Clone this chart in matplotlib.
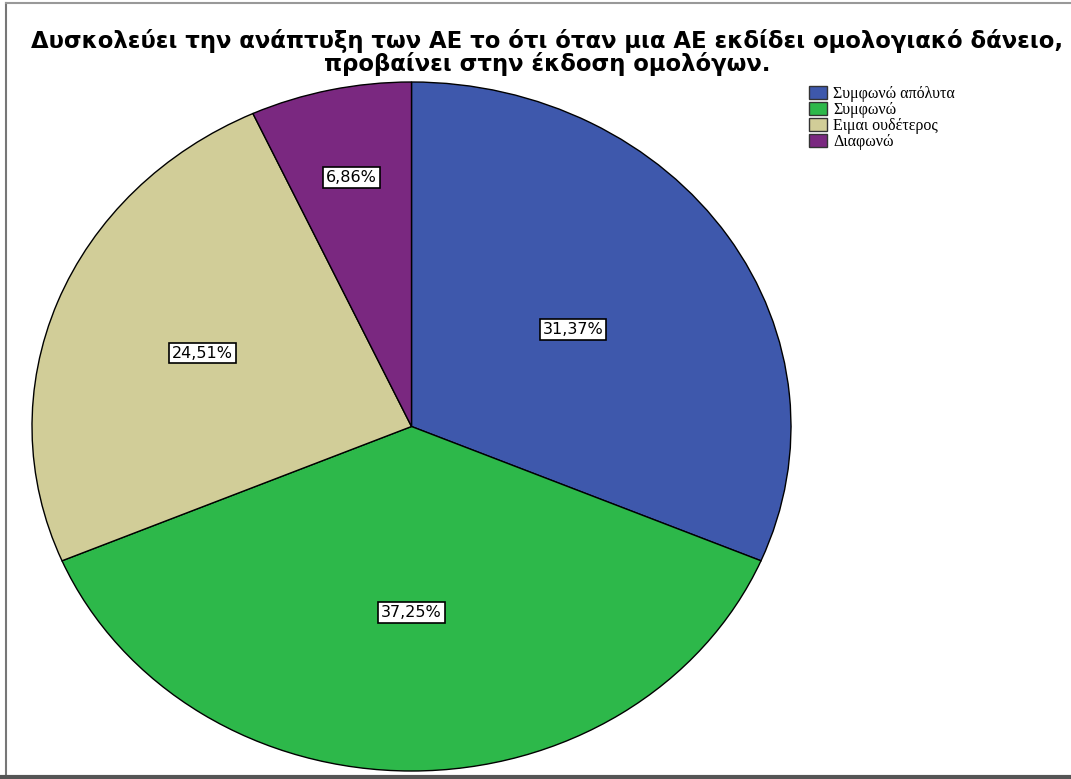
import matplotlib.pyplot as plt
import matplotlib.patches as mpatches
import numpy as np

# data
categories = ['Συμφωνώ απόλυτα', 'Συμφωνώ', 'Ειμαι ουδέτερος', 'Διαφωνώ']
values = [31.37, 37.25, 24.51, 6.86]
pct_labels = ['31,37%', '37,25%', '24,51%', '6,86%']
colors = ['#3e58ac', '#2db84a', '#d1cd98', '#7a2880']
label_dist = [0.51, 0.54, 0.59, 0.74]

fig = plt.figure(figsize=(10.71, 7.79), dpi=100)

# frame lines round the picture
fig.add_artist(plt.Line2D([0.0056, 0.0056], [0.0, 0.996], color='#777777', lw=1.5, transform=fig.transFigure))
fig.add_artist(plt.Line2D([0.0056, 1.0], [0.996, 0.996], color='#999999', lw=1.5, transform=fig.transFigure))
fig.add_artist(plt.Line2D([0.0, 1.0], [0.002, 0.002], color='#555555', lw=3, transform=fig.transFigure))

ax = fig.add_axes([32 / 1071, 8 / 779, 759 / 1071, 689 / 779])
wedges, _ = ax.pie(values, colors=colors, startangle=90, counterclock=False,
                   wedgeprops=dict(edgecolor='black', linewidth=1))
ax.set_aspect('auto')
ax.set_xlim(-1, 1)
ax.set_ylim(-1, 1)
ax.axis('off')

# percentage labels in white boxes
for w, lab, d in zip(wedges, pct_labels, label_dist):
    ang = np.deg2rad((w.theta1 + w.theta2) / 2)
    ax.text(d * np.cos(ang), d * np.sin(ang), lab, ha='center', va='center',
            family='DejaVu Sans', fontsize=11.5,
            bbox=dict(facecolor='white', edgecolor='black', linewidth=1.2, boxstyle='square,pad=0.18'))

fig.text(0.511, 0.9325, 'Δυσκολεύει την ανάπτυξη των ΑΕ το ότι όταν μια ΑΕ εκδίδει ομολογιακό δάνειο,\nπροβαίνει στην έκδοση ομολόγων.',
         ha='center', va='center', family='DejaVu Sans', fontweight='bold', fontsize=16.4,
         linespacing=0.97)

handles = [mpatches.Patch(facecolor=c, edgecolor='#333333', label=l) for c, l in zip(colors, categories)]
fig.legend(handles=handles, loc='upper left', bbox_to_anchor=(798 / 1071, 1 - 75 / 779),
           frameon=False, prop={'family': 'Liberation Serif', 'size': 11.5},
           handlelength=1.1, handleheight=0.9, handletextpad=0.4, labelspacing=-0.01,
           borderpad=0.2)

fig.savefig('out.png', dpi=100)
